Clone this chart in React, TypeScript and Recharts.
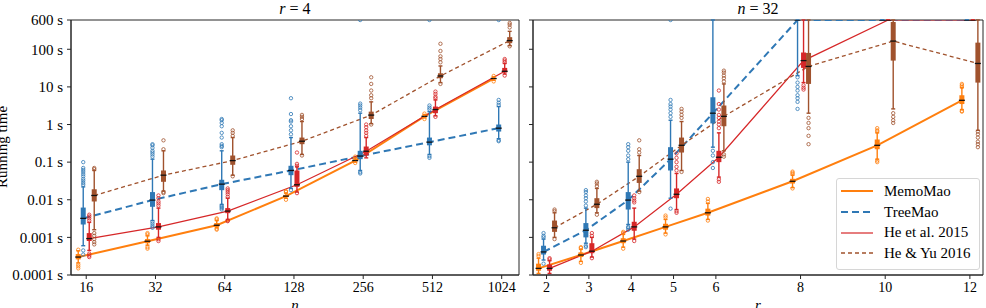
import React from "react";
import { ComposedChart, ErrorBar, Legend, Line, ReferenceArea, Scatter, XAxis, YAxis } from "recharts";

// [whisker low, q1, median, q3, whisker high] in seconds
type Stats = [number, number, number, number, number];

const N_VALUES = [16, 32, 64, 128, 256, 512, 1024];
const R_VALUES = [2, 3, 4, 5, 6, 8, 10, 12];
const TIME_TICKS = [0.0001, 0.001, 0.01, 0.1, 1, 10, 100, 600];

// r = 4, running time over n
const memoMaoByN: Stats[] = [
  [0.00021, 0.00026, 0.0003, 0.00036, 0.00044],
  [0.00062, 0.0007, 0.00079, 0.0009, 0.0011],
  [0.0018, 0.0019, 0.0021, 0.0024, 0.0028],
  [0.011, 0.0118, 0.0125, 0.0135, 0.015],
  [0.1, 0.105, 0.11, 0.12, 0.13],
  [1.5, 1.55, 1.65, 1.75, 1.85],
  [15, 16, 16.7, 17.5, 18.5]
];
const memoMaoByNOutliers: number[][] = [
  [0.00015, 0.00017, 0.00019, 0.00047],
  [0.0005, 0.00055, 0.0012, 0.0013],
  [0.0016, 0.0017, 0.003, 0.0032],
  [0.01, 0.016, 0.017],
  [0.095, 0.14],
  [1.4, 1.95],
  [14, 19.5]
];
const treeMaoByN: Stats[] = [
  [0.0006, 0.0022, 0.0032, 0.0062, 0.022],
  [0.0028, 0.0065, 0.0098, 0.016, 0.12],
  [0.0075, 0.018, 0.026, 0.034, 0.2],
  [0.02, 0.045, 0.06, 0.08, 0.45],
  [0.06, 0.12, 0.145, 0.2, 2],
  [0.16, 0.28, 0.34, 0.45, 2.2],
  [0.42, 0.65, 0.8, 1.0, 3]
];
const treeMaoByNOutliers: number[][] = [
  [0.00035, 0.00045, 0.025, 0.028, 0.032, 0.036, 0.042, 0.048, 0.055, 0.062, 0.07, 0.1],
  [0.0018, 0.002, 0.0023, 0.0026, 0.14, 0.16, 0.18, 0.2, 0.24, 0.28, 0.3],
  [0.0055, 0.006, 0.0065, 0.007, 0.25, 0.27, 0.3, 0.45, 0.6, 0.9, 1.1, 1.3, 1.4],
  [0.018, 0.55, 0.7, 0.9, 1.2, 1.3, 1.9, 5],
  [0.05, 0.054, 2.4, 2.8, 3.2, 3.6, 600],
  [0.13, 0.145, 2.5, 2.8, 3.2, 600],
  [0.36, 0.38, 3.3, 3.8, 4.5, 600]
];
const heEtAlByN: Stats[] = [
  [0.00045, 0.0008, 0.00093, 0.0013, 0.0025],
  [0.001, 0.0016, 0.0019, 0.0024, 0.006],
  [0.003, 0.0044, 0.005, 0.006, 0.011],
  [0.016, 0.022, 0.025, 0.06, 0.075],
  [0.13, 0.15, 0.195, 0.26, 0.45],
  [1.7, 2.0, 2.5, 3.0, 4.5],
  [22, 24, 26, 32, 42]
];
const heEtAlByNOutliers: number[][] = [
  [0.0003, 0.00033, 0.00037, 0.0028, 0.0032, 0.0036, 0.004],
  [0.0008, 0.0009, 0.007, 0.008, 0.009, 0.011, 0.013],
  [0.0027, 0.0028, 0.012, 0.014, 0.016, 0.018, 0.02],
  [0.015, 0.08, 0.09, 0.18],
  [0.5, 0.6, 0.7, 0.85, 1.0],
  [1.6, 5, 5.5, 6.5, 7.5],
  [20, 45, 50, 55]
];
const heYuByN: Stats[] = [
  [0.0016, 0.009, 0.013, 0.019, 0.06],
  [0.017, 0.03, 0.045, 0.06, 0.2],
  [0.045, 0.085, 0.11, 0.15, 0.45],
  [0.16, 0.3, 0.36, 0.45, 1.2],
  [1.05, 1.4, 1.78, 2.2, 4],
  [13, 17, 19.5, 23, 36],
  [125, 145, 170, 210, 300]
];
const heYuByNOutliers: number[][] = [
  [0.00065, 0.00075, 0.0009, 0.0011, 0.0013, 0.065, 0.07],
  [0.015, 0.016, 0.22, 0.38],
  [0.042, 0.5, 0.6, 0.7],
  [0.15, 1.4, 1.6, 1.8],
  [1.0, 5, 6, 8, 12, 18],
  [12, 45, 55, 65, 90, 140],
  [120, 380, 450, 500]
];

// n = 32, running time over r (600 s = timeout)
const memoMaoByR: Stats[] = [
  [0.00011, 0.00013, 0.00015, 0.0002, 0.00028],
  [0.00023, 0.0003, 0.00034, 0.0004, 0.00048],
  [0.00055, 0.0007, 0.0008, 0.00095, 0.0012],
  [0.0013, 0.0016, 0.0019, 0.0023, 0.003],
  [0.003, 0.0038, 0.0045, 0.0058, 0.008],
  [0.021, 0.027, 0.031, 0.036, 0.045],
  [0.12, 0.22, 0.28, 0.4, 0.6],
  [2.5, 3.5, 4.4, 6, 9.5]
];
const memoMaoByROutliers: number[][] = [
  [0.00032, 0.00036],
  [0.00021, 0.00052, 0.00055],
  [0.0005, 0.0013, 0.0014],
  [0.0012, 0.0034, 0.0038],
  [0.0028, 0.009, 0.0105],
  [0.02, 0.048, 0.052, 0.056],
  [0.1, 0.11, 0.65, 0.7, 0.8],
  [2.2, 2.3, 10, 11, 12]
];
const treeMaoByR: Stats[] = [
  [0.00025, 0.00035, 0.00041, 0.0006, 0.0009],
  [0.0007, 0.001, 0.00155, 0.0024, 0.006],
  [0.0022, 0.0055, 0.0098, 0.016, 0.1],
  [0.011, 0.06, 0.12, 0.25, 1.3],
  [0.25, 1.07, 2.0, 5.3, 600],
  [20, 600, 600, 600, 600],
  [600, 600, 600, 600, 600],
  [600, 600, 600, 600, 600]
];
const treeMaoByROutliers: number[][] = [
  [0.0002, 0.001, 0.0011, 0.0013],
  [0.00055, 0.0006, 0.007, 0.009, 0.011, 0.013, 0.016, 0.018],
  [0.0016, 0.0018, 0.0019, 0.12, 0.15, 0.2, 0.25, 0.3],
  [0.0058, 1.6, 2, 2.5, 3, 3.5, 4.5, 600],
  [0.07, 0.1, 0.15, 0.2],
  [2.6, 4, 5, 6, 8, 10, 13, 18],
  [],
  []
];
const heEtAlByR: Stats[] = [
  [0.00011, 0.00013, 0.00015, 0.00019, 0.00024],
  [0.0003, 0.00038, 0.00043, 0.0007, 0.001],
  [0.0009, 0.0015, 0.0019, 0.0026, 0.006],
  [0.0055, 0.011, 0.014, 0.02, 0.05],
  [0.04, 0.1, 0.135, 0.2, 0.6],
  [13, 32, 50, 82, 600],
  [600, 600, 600, 600, 600],
  [600, 600, 600, 600, 600]
];
const heEtAlByROutliers: number[][] = [
  [0.00026, 0.00028],
  [0.00028, 0.0011, 0.0013],
  [0.0008, 0.0085, 0.0095, 0.011, 0.013],
  [0.0045, 0.005, 0.06, 0.075, 0.1, 0.13, 0.17],
  [0.03, 0.035, 0.8, 1.0, 1.2, 1.5, 1.8, 2.5, 3.5, 8],
  [8.5, 9.5, 11],
  [],
  []
];
const heYuByR: Stats[] = [
  [0.001, 0.0014, 0.0018, 0.0028, 0.0045],
  [0.0045, 0.006, 0.0076, 0.011, 0.02],
  [0.017, 0.028, 0.042, 0.065, 0.15],
  [0.06, 0.18, 0.28, 0.45, 1.2],
  [0.2, 0.9, 1.65, 3.2, 12],
  [2, 12, 35, 80, 600],
  [2.6, 50, 165, 530, 600],
  [0.7, 13, 42, 150, 600]
];
const heYuByROutliers: number[][] = [
  [0.0009, 0.005, 0.0055],
  [0.004, 0.023, 0.027, 0.03],
  [0.016, 0.18, 0.22, 0.38],
  [0.055, 1.5, 1.8, 2.2, 2.6],
  [0.14, 0.16, 14, 17, 20, 24, 27],
  [0.3, 0.5, 0.8, 1.1, 1.5],
  [1.1, 1.3, 1.6, 2],
  [0.25, 0.3, 0.35, 0.45, 0.55, 0.65]
];

const FONT = '"Liberation Serif", "Times New Roman", serif';
const AXIS_COLOR = "#262626";
const PLOT_TOP = 20;
const RIGHT_MARGIN = 3;

type Algo = { name: string; color: string; lineWidth: number; dash?: string; dodgePx: number };

const ALGORITHMS: Algo[] = [
  { name: "MemoMao", color: "#ff7f0e", lineWidth: 2, dodgePx: -8 },
  { name: "TreeMao", color: "#2f78b5", lineWidth: 2, dash: "7 4", dodgePx: -3 },
  { name: "He et al. 2015", color: "#d62728", lineWidth: 1.2, dodgePx: 3 },
  { name: "He & Yu 2016", color: "#a0522d", lineWidth: 1.3, dash: "4 3", dodgePx: 8 }
];

const MedianTick = (props: any) => (
  <line x1={props.cx - 3} x2={props.cx + 3} y1={props.cy} y2={props.cy} stroke="#111" strokeWidth={1.3} />
);

function LegendBox() {
  return (
    <div
      style={{
        border: "1px solid #d6d6d6",
        borderRadius: 3,
        background: "rgba(255,255,255,0.85)",
        padding: "2px 8px 5px 4px",
        fontFamily: FONT,
        fontSize: 15,
        color: "#000"
      }}
    >
      {ALGORITHMS.map((a) => (
        <div key={a.name} style={{ display: "flex", alignItems: "center", height: 20.7, whiteSpace: "nowrap" }}>
          <svg width={32} height={10} style={{ marginRight: 11 }}>
            <line x1={0} x2={32} y1={5} y2={5} stroke={a.color} strokeWidth={a.lineWidth} strokeDasharray={a.dash} />
          </svg>
          <span>{a.name}</span>
        </div>
      ))}
    </div>
  );
}

type PanelProps = {
  width: number;
  yAxisWidth: number;
  xs: number[];
  domain: [number, number];
  tickLabel: (v: number) => string;
  stats: Stats[][];
  outliers: number[][][];
  showYLabels: boolean;
  withLegend?: boolean;
};

function Panel({ width, yAxisWidth, xs, domain, tickLabel, stats, outliers, showYLabels, withLegend }: PanelProps) {
  const plotWidth = width - yAxisWidth - RIGHT_MARGIN;
  const unitsPerPx = (domain[1] - domain[0]) / plotWidth;

  const xTick = (p: any) => (
    <text x={p.x} y={p.y} dy="0.71em" textAnchor="middle" fill="#000" style={{ fontFamily: FONT, fontSize: 14 }}>
      {tickLabel(p.payload.value)}
    </text>
  );
  const yTick = (p: any) =>
    showYLabels ? (
      <text x={p.x} y={p.y} dy="0.35em" textAnchor="end" fill="#000" style={{ fontFamily: FONT, fontSize: 15 }}>
        {`${p.payload.value} s`}
      </text>
    ) : (
      <g />
    );

  return (
    <ComposedChart width={width} height={308} margin={{ top: PLOT_TOP, right: RIGHT_MARGIN, bottom: 0, left: 0 }}>
      <XAxis
        type="number"
        dataKey="x"
        domain={domain}
        allowDataOverflow
        ticks={xs}
        interval={0}
        height={33}
        tickSize={4}
        tickMargin={3}
        tick={xTick}
        stroke={AXIS_COLOR}
      />
      <YAxis
        type="number"
        dataKey="y"
        scale="log"
        domain={[0.0001, 600]}
        allowDataOverflow
        ticks={TIME_TICKS}
        interval={0}
        width={yAxisWidth}
        tickSize={4}
        tickMargin={4}
        tick={yTick}
        stroke={AXIS_COLOR}
      />
      <ReferenceArea
        x1={domain[0]}
        x2={domain[1]}
        y1={0.0001}
        y2={600}
        fill="none"
        stroke={AXIS_COLOR}
        strokeWidth={1}
        ifOverflow="visible"
      />
      {ALGORITHMS.map((a, k) => (
        <Line
          key={`line-${a.name}`}
          data={stats[k].map((s, i) => ({ x: xs[i] + a.dodgePx * unitsPerPx, y: s[2] }))}
          dataKey="y"
          stroke={a.color}
          strokeWidth={a.lineWidth}
          strokeDasharray={a.dash}
          dot={false}
          activeDot={false}
          isAnimationActive={false}
        />
      ))}
      {ALGORITHMS.flatMap((a, k) => {
        const shift = a.dodgePx * unitsPerPx;
        const boxRows = stats[k].map((s, i) => ({
          x: xs[i] + shift,
          y: s[2],
          whisker: [s[2] - s[0], s[4] - s[2]],
          box: [s[2] - s[1], s[3] - s[2]]
        }));
        const outlierRows = outliers[k].flatMap((vals, i) => vals.map((v) => ({ x: xs[i] + shift, y: v })));
        return [
          <Scatter key={`box-${a.name}`} data={boxRows} shape={MedianTick} isAnimationActive={false}>
            <ErrorBar dataKey="whisker" direction="y" width={2} stroke={a.color} strokeWidth={1.4} isAnimationActive={false} />
            <ErrorBar dataKey="box" direction="y" width={0} stroke={a.color} strokeWidth={5} isAnimationActive={false} />
          </Scatter>,
          <Scatter
            key={`out-${a.name}`}
            data={outlierRows}
            isAnimationActive={false}
            shape={(p: any) => <circle cx={p.cx} cy={p.cy} r={1.7} fill="none" stroke={a.color} strokeWidth={0.8} />}
          />
        ];
      })}
      {withLegend && (
        <Legend
          layout="horizontal"
          verticalAlign="middle"
          align="center"
          wrapperStyle={{ left: 316, top: 178, width: "auto" }}
          content={() => <LegendBox />}
        />
      )}
    </ComposedChart>
  );
}

export default function App() {
  const leftXs = N_VALUES.map((n) => Math.log2(n));
  return (
    <div style={{ position: "absolute", left: 0, top: 0, width: 986, height: 308, background: "#fff", fontFamily: FONT }}>
      <div style={{ position: "absolute", left: 0, top: 0 }}>
        <Panel
          width={522}
          yAxisWidth={71}
          xs={leftXs}
          domain={[3.78, 10.25]}
          tickLabel={(v) => String(Math.round(2 ** v))}
          stats={[memoMaoByN, treeMaoByN, heEtAlByN, heYuByN]}
          outliers={[memoMaoByNOutliers, treeMaoByNOutliers, heEtAlByNOutliers, heYuByNOutliers]}
          showYLabels
        />
      </div>
      <div style={{ position: "absolute", left: 520, top: 0 }}>
        <Panel
          width={466}
          yAxisWidth={13}
          xs={R_VALUES}
          domain={[1.68, 12.31]}
          tickLabel={(v) => String(v)}
          stats={[memoMaoByR, treeMaoByR, heEtAlByR, heYuByR]}
          outliers={[memoMaoByROutliers, treeMaoByROutliers, heEtAlByROutliers, heYuByROutliers]}
          showYLabels={false}
          withLegend
        />
      </div>
      <svg width={986} height={308} style={{ position: "absolute", left: 0, top: 0, pointerEvents: "none" }}>
        <g style={{ fontFamily: FONT }} fontSize={16} fill="#000" textAnchor="middle">
          <text x={295} y={14}>
            <tspan fontStyle="italic">r</tspan> = 4
          </text>
          <text x={758} y={14}>
            <tspan fontStyle="italic">n</tspan> = 32
          </text>
          <text x={295} y={310} fontStyle="italic" fontSize={15}>n</text>
          <text x={758} y={310} fontStyle="italic" fontSize={15}>r</text>
          <text x={7} y={147} fontSize={15} transform="rotate(-90 7 147)">Running time</text>
        </g>
      </svg>
    </div>
  );
}
